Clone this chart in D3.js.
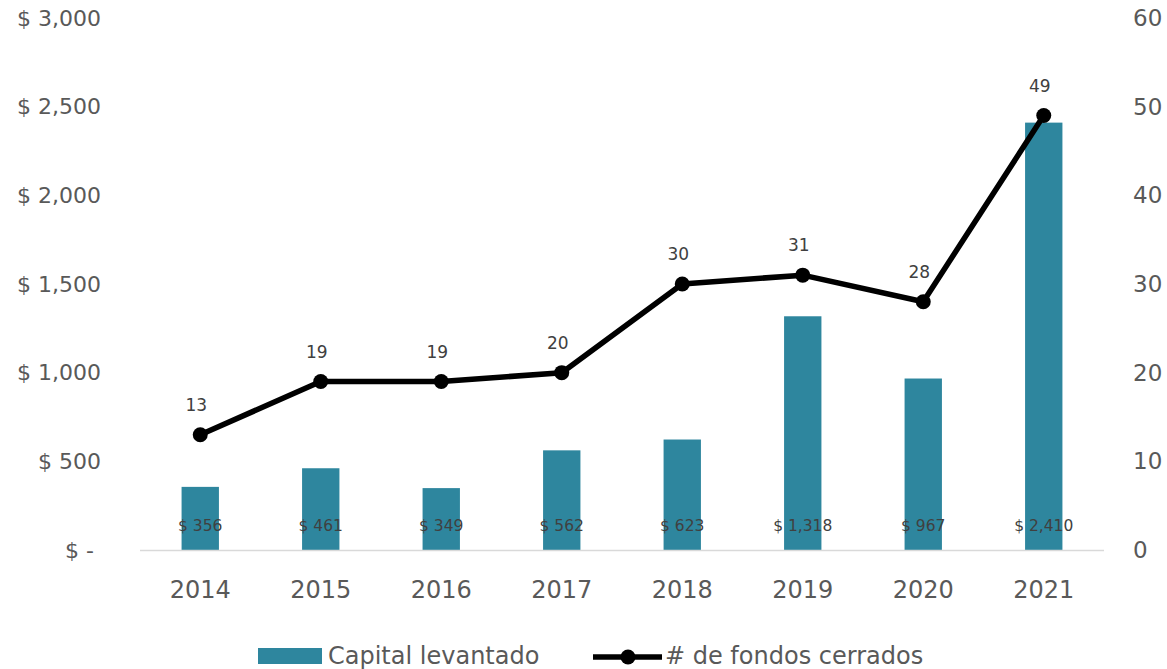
<!DOCTYPE html>
<html><head><meta charset="utf-8">
<script src="https://cdn.jsdelivr.net/npm/d3@7"></script>
<style>
html,body{margin:0;padding:0;background:#fff;}
svg text{font-family:"DejaVu Sans",sans-serif;}
</style></head>
<body>
<svg id="chart" width="1167" height="669"></svg>
<script>
const years = ["2014","2015","2016","2017","2018","2019","2020","2021"];
const capital = [356, 461, 349, 562, 623, 1318, 967, 2410];
const funds = [13, 19, 19, 20, 30, 31, 28, 49];
const leftTicks = [0, 500, 1000, 1500, 2000, 2500, 3000];
const rightTicks = [0, 10, 20, 30, 40, 50, 60];
const seriesNames = ["Capital levantado", "# de fondos cerrados"];

const svg = d3.select("#chart");
const x0 = 140, x1 = 1104, yBottom = 550, yTop = 18;
const barColor = "#2E869E";
const textGray = "#595959";

const x = d3.scaleBand().domain(years).range([x0, x1]).paddingInner(0.69).paddingOuter(0.345);
const xc = d3.scaleBand().domain(years).range([x0, x1]);
const yL = d3.scaleLinear().domain([0, 3000]).range([yBottom, yTop]);
const yR = d3.scaleLinear().domain([0, 60]).range([yBottom, yTop]);

const fmtMoney = v => v === 0 ? "$ -\u00a0" : "$ " + d3.format(",")(v);

// left axis
const gl = svg.append("g").attr("transform", `translate(${x0},0)`)
  .call(d3.axisLeft(yL).tickValues(leftTicks).tickFormat(fmtMoney).tickSize(0).tickPadding(39));
gl.select(".domain").remove();
gl.selectAll("text").attr("fill", textGray).style("font-size", "22px");

// right axis
const gr = svg.append("g").attr("transform", `translate(${x1},0)`)
  .call(d3.axisRight(yR).tickValues(rightTicks).tickSize(0).tickPadding(29));
gr.select(".domain").remove();
gr.selectAll("text").attr("fill", textGray).style("font-size", "23px");

// bars
svg.append("g").selectAll("rect").data(capital).join("rect")
  .attr("x", (d, i) => x(years[i]))
  .attr("width", x.bandwidth())
  .attr("y", d => yL(d))
  .attr("height", d => yBottom - yL(d))
  .attr("fill", barColor);

// baseline
svg.append("line").attr("x1", x0).attr("x2", x1).attr("y1", yBottom + 0.5).attr("y2", yBottom + 0.5)
  .attr("stroke", "#D9D9D9").attr("stroke-width", 1.5);

// x axis labels
const gx = svg.append("g").attr("transform", `translate(0,${yBottom})`)
  .call(d3.axisBottom(xc).tickSize(0).tickPadding(31));
gx.select(".domain").remove();
gx.selectAll("text").attr("fill", textGray).style("font-size", "24px");

// bar labels
svg.append("g").selectAll("text").data(capital).join("text")
  .attr("x", (d, i) => xc(years[i]) + xc.bandwidth() / 2)
  .attr("y", 530.5)
  .attr("text-anchor", "middle")
  .attr("fill", "#404040")
  .style("font-size", "15.5px")
  .text(d => "$ " + d3.format(",")(d));

// line
const line = d3.line().x((d, i) => xc(years[i]) + xc.bandwidth() / 2).y(d => yR(d));
svg.append("path").datum(funds).attr("d", line)
  .attr("fill", "none").attr("stroke", "#000").attr("stroke-width", 5.5).attr("stroke-linejoin", "round");
svg.append("g").selectAll("circle").data(funds).join("circle")
  .attr("cx", (d, i) => xc(years[i]) + xc.bandwidth() / 2)
  .attr("cy", d => yR(d))
  .attr("r", 7.5).attr("fill", "#000");

// line labels
svg.append("g").selectAll("text").data(funds).join("text")
  .attr("x", (d, i) => xc(years[i]) + xc.bandwidth() / 2 - 4)
  .attr("y", d => yR(d) - 24)
  .attr("text-anchor", "middle")
  .attr("fill", "#404040")
  .style("font-size", "17px")
  .text(d => d);

// legend
const lg = svg.append("g");
lg.append("rect").attr("x", 258).attr("y", 648).attr("width", 64).attr("height", 16).attr("fill", barColor);
lg.append("text").attr("x", 328).attr("y", 664).attr("fill", textGray).style("font-size", "24px").text(seriesNames[0]);
lg.append("line").attr("x1", 593).attr("x2", 662).attr("y1", 657).attr("y2", 657).attr("stroke", "#000").attr("stroke-width", 5.5);
lg.append("circle").attr("cx", 628).attr("cy", 657).attr("r", 7.5).attr("fill", "#000");
lg.append("text").attr("x", 665).attr("y", 664).attr("fill", textGray).style("font-size", "24px").text(seriesNames[1]);
</script>
</body></html>
